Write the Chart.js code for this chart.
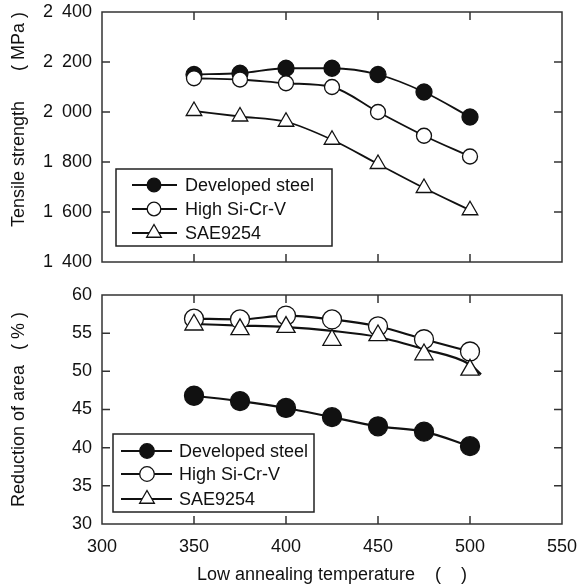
<!DOCTYPE html>
<html>
<head>
<meta charset="utf-8">
<script src="https://cdn.jsdelivr.net/npm/chart.js@4.4.1/dist/chart.umd.min.js"></script>
<style>
    html, body { margin: 0; padding: 0; background: #fff; }
    canvas { display: block; }
</style>
</head>
<body>
<canvas id="tensile-chart" width="581" height="280"></canvas>
<canvas id="area-chart" width="581" height="306"></canvas>
<script>
const temperatures = [350, 375, 400, 425, 450, 475, 500];

const tensileDeveloped = [2150, 2155, 2175, 2175, 2150, 2080, 1980];
const tensileHighSiCrV = [2135, 2130, 2115, 2100, 2000, 1905, 1822];
const tensileSae9254 = [2004, 1982, 1961, 1889, 1792, 1696, 1607];

const areaDeveloped = [46.8, 46.1, 45.2, 44.0, 42.8, 42.1, 40.2];
const areaHighSiCrV = [56.9, 56.8, 57.3, 56.8, 55.9, 54.2, 52.6];
const areaSae9254 = [56.1, 55.5, 55.8, 54.1, 54.7, 52.2, 50.2];

// SAE9254 reduction of area: smoothed trend line drawn apart from its markers
const areaSaeTrendTemps = [350, 375, 400, 425, 450, 475, 500, 506];
const areaSaeTrend = [56.2, 56.0, 55.8, 55.3, 54.5, 52.9, 50.9, 49.6];

const FONT = '"Liberation Sans", Arial, sans-serif';
const INK = '#111';

Chart.defaults.font.family = FONT;
Chart.defaults.font.size = 18;
Chart.defaults.color = INK;

function points(xs, ys) {
    return xs.map((x, i) => ({ x, y: ys[i] }));
}

function thousands(v) {
    if (v < 1000) {
        return String(v);
    }
    return Math.floor(v / 1000) + '\u2002' + String(v % 1000).padStart(3, '0');
}

// box frame with inward tick marks on all four sides
const plotFrame = {
    id: 'plotFrame',
    beforeDatasetsDraw(chart) {
        const { ctx, chartArea: { left, top, right, bottom }, scales: { x, y } } = chart;
        const len = 8;
        ctx.save();
        ctx.strokeStyle = '#333';
        ctx.lineWidth = 1.5;
        ctx.strokeRect(left, top, right - left, bottom - top);
        ctx.beginPath();
        x.ticks.forEach(({ value }) => {
            if (value <= x.min || value >= x.max) return;
            const px = x.getPixelForValue(value);
            ctx.moveTo(px, bottom);
            ctx.lineTo(px, bottom - len);
            ctx.moveTo(px, top);
            ctx.lineTo(px, top + len);
        });
        y.ticks.forEach(({ value }) => {
            if (value <= y.min || value >= y.max) return;
            const py = y.getPixelForValue(value);
            ctx.moveTo(left, py);
            ctx.lineTo(left + len, py);
            ctx.moveTo(right, py);
            ctx.lineTo(right - len, py);
        });
        ctx.stroke();
        ctx.restore();
    },
};

// framed legend with a line-and-marker sample per series
const boxLegend = {
    id: 'boxLegend',
    afterDatasetsDraw(chart, args, opts) {
        const { ctx } = chart;
        const { box, rows, lineFrom, lineTo, markerX, textX, markerRadius } = opts;
        const entries = chart.data.datasets.filter((ds) => ds.pointRadius > 0);
        ctx.save();
        ctx.fillStyle = '#fff';
        ctx.fillRect(box.x, box.y, box.w, box.h);
        ctx.strokeStyle = '#222';
        ctx.lineWidth = 1.5;
        ctx.strokeRect(box.x, box.y, box.w, box.h);
        entries.forEach((ds, i) => {
            const cy = rows[i];
            ctx.strokeStyle = ds.borderColor;
            ctx.lineWidth = ds.borderWidth;
            ctx.beginPath();
            ctx.moveTo(lineFrom, cy);
            ctx.lineTo(lineTo, cy);
            ctx.stroke();
            ctx.fillStyle = ds.pointBackgroundColor;
            ctx.strokeStyle = ds.pointBorderColor;
            ctx.lineWidth = ds.pointBorderWidth;
            Chart.helpers.drawPoint(ctx, {
                pointStyle: ds.pointStyle,
                radius: markerRadius[ds.pointStyle],
                rotation: 0,
                borderWidth: ds.pointBorderWidth,
            }, markerX, cy);
            ctx.fillStyle = INK;
            ctx.font = '18px ' + FONT;
            ctx.textBaseline = 'middle';
            ctx.textAlign = 'left';
            ctx.fillText(ds.label, textX, cy + 1);
        });
        ctx.restore();
    },
};

function series(label, xs, ys, style, filled, radius, width, order) {
    return {
        label,
        data: points(xs, ys),
        borderColor: INK,
        borderWidth: width,
        pointStyle: style,
        pointRadius: radius,
        pointBackgroundColor: filled ? INK : '#fff',
        pointBorderColor: INK,
        pointBorderWidth: 1.3,
        cubicInterpolationMode: 'monotone',
        order,
    };
}

// tick padding comes from an invisible tick length so it does not widen the plot insets
function yAxis(min, max, step, title, align) {
    return {
        min,
        max,
        ticks: { stepSize: step, padding: 0, callback: (v) => thousands(v) },
        grid: { display: false, drawTicks: true, tickLength: 10 },
        border: { display: false },
        title: {
            display: true,
            text: title,
            align,
            font: { size: 18 },
            padding: { top: 8, bottom: 0 },
        },
        afterFit(scale) {
            scale.width = 102;
        },
    };
}

new Chart(document.getElementById('tensile-chart'), {
    type: 'line',
    data: {
        datasets: [
            series('Developed steel', temperatures, tensileDeveloped, 'circle', true, 8, 1.8, 2),
            series('High Si-Cr-V', temperatures, tensileHighSiCrV, 'circle', false, 7.5, 1.8, 1),
            series('SAE9254', temperatures, tensileSae9254, 'triangle', false, 9, 1.8, 0),
        ],
    },
    options: {
        responsive: false,
        animation: false,
        events: [],
        layout: { padding: { top: 12, right: 19, left: 0, bottom: 0 } },
        plugins: {
            legend: { display: false },
            tooltip: { enabled: false },
            boxLegend: {
                box: { x: 116, y: 169, w: 216, h: 77 },
                rows: [185, 209, 233],
                lineFrom: 132,
                lineTo: 177,
                markerX: 154,
                textX: 185,
                markerRadius: { circle: 6.8, triangle: 8.5 },
            },
        },
        scales: {
            x: {
                type: 'linear',
                min: 300,
                max: 550,
                ticks: { display: false, stepSize: 50, padding: 0 },
                grid: { display: false, drawTicks: false },
                border: { display: false },
                afterFit(scale) {
                    scale.height = 18;
                },
            },
            y: yAxis(1400, 2400, 200, 'Tensile strength      ( MPa )', 'end'),
        },
    },
    plugins: [plotFrame, boxLegend],
});

const saeArea = series('SAE9254', temperatures, areaSae9254, 'triangle', false, 10.5, 2.2, 0);
saeArea.showLine = false;

new Chart(document.getElementById('area-chart'), {
    type: 'line',
    data: {
        datasets: [
            series('Developed steel', temperatures, areaDeveloped, 'circle', true, 9.5, 2.2, 2),
            series('High Si-Cr-V', temperatures, areaHighSiCrV, 'circle', false, 9.5, 2.2, 1),
            saeArea,
            {
                label: 'SAE9254 trend',
                data: points(areaSaeTrendTemps, areaSaeTrend),
                borderColor: INK,
                borderWidth: 2.2,
                pointRadius: 0,
                cubicInterpolationMode: 'monotone',
                order: 3,
            },
        ],
    },
    options: {
        responsive: false,
        animation: false,
        events: [],
        layout: { padding: { top: 15, right: 19, left: 0, bottom: 0 } },
        plugins: {
            legend: { display: false },
            tooltip: { enabled: false },
            boxLegend: {
                box: { x: 113, y: 154, w: 201, h: 78 },
                rows: [171, 194, 219],
                lineFrom: 121,
                lineTo: 172,
                markerX: 147,
                textX: 179,
                markerRadius: { circle: 7.3, triangle: 8.5 },
            },
        },
        scales: {
            x: {
                type: 'linear',
                min: 300,
                max: 550,
                ticks: { stepSize: 50, padding: 0, maxRotation: 0 },
                grid: { display: false, drawTicks: true, tickLength: 12 },
                border: { display: false },
                title: {
                    display: true,
                    text: 'Low annealing temperature    (    )',
                    font: { size: 18 },
                    padding: { top: 0, bottom: 0 },
                },
                afterFit(scale) {
                    scale.height = 62;
                },
            },
            y: yAxis(30, 60, 5, 'Reduction of area   ( % )', 'center'),
        },
    },
    plugins: [plotFrame, boxLegend],
});
</script>
</body>
</html>
